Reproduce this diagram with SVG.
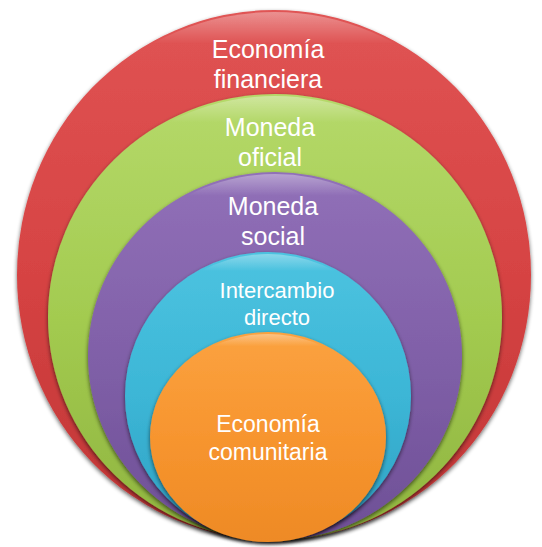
<svg xmlns="http://www.w3.org/2000/svg" width="542" height="547" viewBox="0 0 542 547">
<defs>
<filter id="sh" x="-10%" y="-10%" width="120%" height="120%">
<feGaussianBlur in="SourceAlpha" stdDeviation="2"/>
<feOffset dx="0" dy="2" result="b"/>
<feComponentTransfer in="b" result="b2"><feFuncA type="linear" slope="0.6"/></feComponentTransfer>
<feMerge><feMergeNode in="b2"/><feMergeNode in="SourceGraphic"/></feMerge>
</filter>
<linearGradient id="gRed" x1="0" y1="0" x2="0" y2="1">
<stop offset="0" stop-color="#e05454"/><stop offset="0.5" stop-color="#d64343"/><stop offset="1" stop-color="#bf3535"/>
</linearGradient>
<linearGradient id="gGreen" x1="0" y1="0" x2="0" y2="1">
<stop offset="0" stop-color="#b5d96a"/><stop offset="0.5" stop-color="#a3cb50"/><stop offset="1" stop-color="#8fb43f"/>
</linearGradient>
<linearGradient id="gPurple" x1="0" y1="0" x2="0" y2="1">
<stop offset="0" stop-color="#9170b8"/><stop offset="0.5" stop-color="#8060a8"/><stop offset="1" stop-color="#6e4f96"/>
</linearGradient>
<linearGradient id="gCyan" x1="0" y1="0" x2="0" y2="1">
<stop offset="0" stop-color="#4cc3e0"/><stop offset="0.5" stop-color="#3cb6d6"/><stop offset="1" stop-color="#2fa0c2"/>
</linearGradient>
<linearGradient id="gOrange" x1="0" y1="0" x2="0" y2="1">
<stop offset="0" stop-color="#fba240"/><stop offset="0.5" stop-color="#f7952f"/><stop offset="1" stop-color="#ee8a25"/>
</linearGradient>
<linearGradient id="gloss" x1="0" y1="0" x2="0" y2="1">
<stop offset="0" stop-color="#ffffff" stop-opacity="0.35"/><stop offset="0.06" stop-color="#ffffff" stop-opacity="0"/>
</linearGradient>
</defs>
<style>
.lbl{font-family:"Liberation Sans","Open Sans",sans-serif;fill:#ffffff;text-anchor:middle}
.rim{fill:url(#gloss)}
</style>
<g id="n-economia-financiera">
<ellipse cx="274" cy="275" rx="257" ry="265" fill="url(#gRed)" filter="url(#sh)"/>
<ellipse class="rim" cx="274" cy="275" rx="255" ry="263"/>
<text class="lbl" x="268" y="58" font-size="25">Economía</text>
<text class="lbl" x="268" y="88" font-size="25">financiera</text>
</g>
<g id="n-moneda-oficial">
<ellipse cx="275" cy="317" rx="227" ry="223" fill="url(#gGreen)" filter="url(#sh)"/>
<ellipse class="rim" cx="275" cy="317" rx="225" ry="221"/>
<text class="lbl" x="270" y="136" font-size="25">Moneda</text>
<text class="lbl" x="270" y="166" font-size="25">oficial</text>
</g>
<g id="n-moneda-social">
<ellipse cx="275" cy="356" rx="187" ry="184" fill="url(#gPurple)" filter="url(#sh)"/>
<ellipse class="rim" cx="275" cy="356" rx="185" ry="182"/>
<text class="lbl" x="273" y="215" font-size="25">Moneda</text>
<text class="lbl" x="273" y="245" font-size="25">social</text>
</g>
<g id="n-intercambio-directo">
<ellipse cx="268" cy="396" rx="143" ry="144" fill="url(#gCyan)" filter="url(#sh)"/>
<ellipse class="rim" cx="268" cy="396" rx="141" ry="142"/>
<text class="lbl" x="277" y="298" font-size="22">Intercambio</text>
<text class="lbl" x="277" y="325" font-size="22">directo</text>
</g>
<g id="n-economia-comunitaria">
<ellipse cx="268" cy="437" rx="118" ry="105" fill="url(#gOrange)" filter="url(#sh)"/>
<ellipse class="rim" cx="268" cy="437" rx="116" ry="103"/>
<text class="lbl" x="268" y="432" font-size="23">Economía</text>
<text class="lbl" x="268" y="460" font-size="23">comunitaria</text>
</g>
<g id="connectors"/>
</svg>
